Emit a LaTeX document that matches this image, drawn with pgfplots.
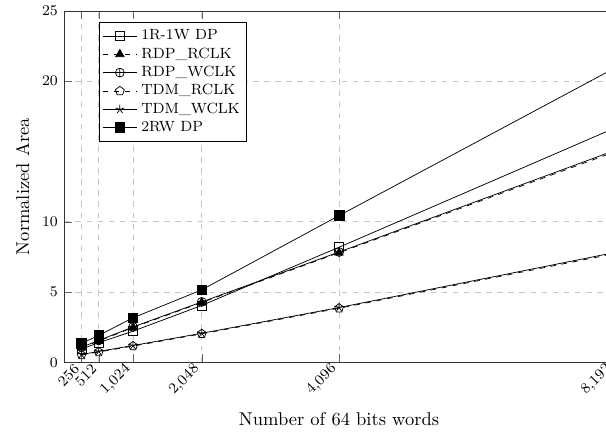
\documentclass[border=0pt]{standalone}
\usepackage{pgfplots}
\pgfplotsset{compat=1.18}
\usetikzlibrary{calc}

\begin{document}
\begin{tikzpicture}
\begin{axis}[
  name=ax,
  scale only axis,
  width=297pt,
  height=190pt,
  xmin=0, xmax=8192,
  ymin=0, ymax=25,
  xtick={256,512,1024,2048,4096,8192},
  ytick={0,5,10,20,25},
  xticklabel style={rotate=45, anchor=east, font=\footnotesize},
  yticklabel style={font=\footnotesize},
  xlabel={Number of 64 bits words},
  ylabel={Normalized Area},
  grid=major,
  major grid style={dashed, gray!45},
  axis line style={black!80},
  tick style={black!60},
  legend image code/.code={
    \draw[mark repeat=2, mark phase=2] plot coordinates {(0cm,0cm) (0.33cm,0cm) (0.66cm,0cm)};
  },
  legend style={
    at={(0.063,0.969)}, anchor=north west,
    font=\footnotesize, draw=black, row sep=-1.2pt,
    inner xsep=1.5pt,
    cells={anchor=west},
  },
]
\addplot[black, thin, solid, mark=square, mark size=2.4pt, mark options={solid}] coordinates {
  (256,0.95) (512,1.40) (1024,2.22) (2048,4.05) (4096,8.19) (8192,16.64)
};
\addlegendentry{1R-1W DP}
\addplot[black, thin, dashed, mark=triangle*, mark size=2.6pt, mark options={solid, fill=black}] coordinates {
  (256,1.05) (512,1.52) (1024,2.48) (2048,4.26) (4096,7.80) (8192,14.95)
};
\addlegendentry{RDP\_RCLK}
\addplot[black, thin, solid, mark=oplus, mark size=2.4pt, mark options={solid}] coordinates {
  (256,1.08) (512,1.56) (1024,2.52) (2048,4.30) (4096,7.85) (8192,15.05)
};
\addlegendentry{RDP\_WCLK}
\addplot[black, thin, dashed, mark=pentagon, mark size=2.5pt, mark options={solid}] coordinates {
  (256,0.52) (512,0.74) (1024,1.16) (2048,2.03) (4096,3.85) (8192,7.72)
};
\addlegendentry{TDM\_RCLK}
\addplot[black, thin, solid, mark=star, mark size=2.5pt, mark options={solid}] coordinates {
  (256,0.56) (512,0.78) (1024,1.20) (2048,2.07) (4096,3.90) (8192,7.80)
};
\addlegendentry{TDM\_WCLK}
\addplot[black, thin, solid, mark=square*, mark size=2.6pt, mark options={solid, fill=black}] coordinates {
  (256,1.35) (512,1.92) (1024,3.17) (2048,5.16) (4096,10.44) (8192,20.9)
};
\addlegendentry{2RW DP}
\end{axis}
% the reference is cut just left of the 8192 end of the axis
\pgfresetboundingbox
\useasboundingbox ($(ax.south west)+(-34.8pt,-40pt)$) rectangle ($(ax.north west)+(292.8pt,5.9pt)$);
\end{tikzpicture}
\end{document}
